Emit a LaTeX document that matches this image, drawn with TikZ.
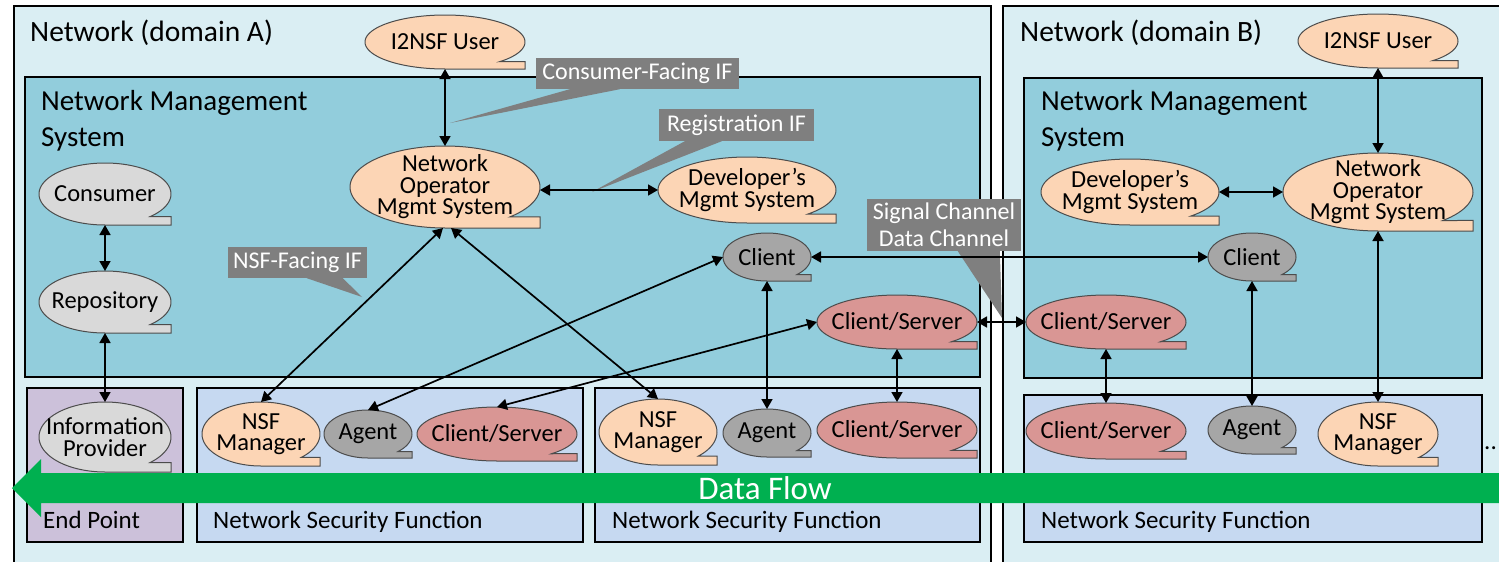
\documentclass[tikz,border=0pt]{standalone}
\usepackage{fontspec}
\setmainfont{Carlito}
\usetikzlibrary{arrows.meta,shapes.geometric,calc}

\definecolor{domfill}{HTML}{DAEEF3}
\definecolor{nmsfill}{HTML}{92CDDC}
\definecolor{nsffill}{HTML}{C6D9F1}
\definecolor{epfill}{HTML}{CCC1DA}
\definecolor{peach}{HTML}{FCD5B5}
\definecolor{ltgray}{HTML}{D9D9D9}
\definecolor{dkgray}{HTML}{A6A6A6}
\definecolor{rose}{HTML}{D99694}
\definecolor{calgray}{HTML}{7F7F7F}
\definecolor{flowgreen}{HTML}{00B050}

\tikzset{
  frame/.style={draw=black, line width=1.8pt},
  bubline/.style={draw=black!70, line width=1pt},
  bubshape/.style={ellipse, inner sep=0pt, outer sep=0pt, draw=none},
  bubtext/.style={align=center, inner sep=0pt, font=\fontsize{24.5}{21.5}\selectfont},
  link/.style={line width=1.7pt, {Triangle[length=10pt,width=11pt]}-{Triangle[length=10pt,width=11pt]}},
  callout/.style={fill=calgray, draw=none, text=white, inner sep=0pt, align=center,
                  font=\fontsize{24}{27}\selectfont},
  title/.style={anchor=base west, inner sep=0pt, font=\fontsize{29.5}{36}\selectfont, align=left},
  boxlabel/.style={anchor=base west, inner sep=0pt, font=\fontsize{25}{30}\selectfont},
}

% speech-bubble ellipse with a flat tab at its lower right
% #1 fill, #2 name, #3 cx, #4 cy, #5 half width, #6 half height, #7 text
\newcommand\bubble[7]{%
  \filldraw[bubline, fill=#1] plot[domain=47:-270, samples=90]
      ({#3+#5*cos(\x)},{#4+#6*sin(\x)}) -- ({#3+#5},{#4+#6}) -- ({#3+#5},{#4+0.73*#6}) -- cycle;
  \node[bubshape, minimum width={2*#5pt}, minimum height={2*#6pt}] (#2) at (#3,#4) {};
  \node[bubtext] (#2-t) at (#3,#4) {#7};
}

\begin{document}
\begin{tikzpicture}[x=1pt, y=-1pt]
\useasboundingbox (0,0) rectangle (1499,562);
\clip (0,0) rectangle (1499,562);

% domains
\filldraw[frame, fill=domfill] (14,6) rectangle (991,580);
\filldraw[frame, fill=domfill] (1003,6) rectangle (1530,580);

% management systems
\filldraw[frame, fill=nmsfill] (25,77) rectangle (980,377);
\filldraw[frame, fill=nmsfill] (1024,78) rectangle (1482,378);

% end point and security functions
\filldraw[frame, fill=epfill] (27,388) rectangle (183,542);
\filldraw[frame, fill=nsffill] (197,388) rectangle (583,542);
\filldraw[frame, fill=nsffill] (595,388) rectangle (980,542);
\filldraw[frame, fill=nsffill] (1024,395) rectangle (1482,542);

% titles
\node[title] (domA) at (30,41) {Network (domain A)};
\node[title] (domB) at (1020,41) {Network (domain B)};
\node[title, font=\fontsize{29}{36}\selectfont] (nmsA) at (41,146) {Network Management\\System};
\node[title, font=\fontsize{29}{36}\selectfont] (nmsB) at (1041,146) {Network Management\\System};
\node[boxlabel] (epl) at (43,528) {End Point};
\node[boxlabel] (nsfl1) at (213,528) {Network Security Function};
\node[boxlabel] (nsfl2) at (612,528) {Network Security Function};
\node[boxlabel] (nsfl3) at (1041,528) {Network Security Function};

% interface callouts
\node[callout, minimum width=203pt, minimum height=31pt] (cfi) at (637.5,73.5) {Consumer-Facing IF};
\fill[calgray] ($(cfi.south west)+(34,0)$) -- ($(cfi.south west)+(84,0)$) -- (450,123) -- cycle;
\node[callout, minimum width=155pt, minimum height=32pt] (regi) at (736.5,125) {Registration IF};
\fill[calgray] ($(regi.south west)+(26,0)$) -- ($(regi.south west)+(63,0)$) -- (592,192) -- cycle;
\node[callout, minimum width=139pt, minimum height=31pt] (nfi) at (297.5,262.5) {NSF-Facing IF};
\fill[calgray] ($(nfi.south west)+(79,0)$) -- ($(nfi.south west)+(115,0)$) -- (362,297) -- cycle;
\node[callout, minimum width=154pt, minimum height=52pt] (chan) at (944,225) {Signal Channel\\Data Channel};
\fill[calgray] ($(chan.south west)+(91,0)$) -- ($(chan.south west)+(133,0)$) -- (1002,318) -- cycle;

% domain A components
\bubble{peach}{userA}{445}{42}{80}{27}{I2NSF User}
\bubble{peach}{opA}{445}{187}{95}{41}{Network\\Operator\\Mgmt System}
\bubble{peach}{devA}{747}{190}{89}{33}{Developer’s\\Mgmt System}
\bubble{ltgray}{cons}{105}{194}{66}{31}{Consumer}
\bubble{ltgray}{repo}{105}{302}{66}{31}{Repository}
\bubble{ltgray}{info}{105}{437}{66}{35}{Information\\Provider}
\bubble{dkgray}{cliA}{767}{257}{44}{24}{Client}
\bubble{rose}{csA}{897}{322}{80}{27}{Client/Server}
\bubble{peach}{mgrA1}{261}{434}{59}{32}{NSF\\Manager}
\bubble{dkgray}{agA1}{368}{434}{44}{24}{Agent}
\bubble{rose}{csA1}{497}{434}{80}{27}{Client/Server}
\bubble{peach}{mgrA2}{658}{432}{59}{33}{NSF\\Manager}
\bubble{dkgray}{agA2}{767}{433}{44}{24}{Agent}
\bubble{rose}{csA2}{897}{430}{80}{28}{Client/Server}

% domain B components
\bubble{peach}{userB}{1378}{41}{80}{27}{I2NSF User}
\bubble{peach}{opB}{1378}{192}{95}{39}{Network\\Operator\\Mgmt System}
\bubble{peach}{devB}{1130}{192}{89}{33}{Developer’s\\Mgmt System}
\bubble{dkgray}{cliB}{1252}{257}{44}{24}{Client}
\bubble{rose}{csB}{1106}{322}{80}{27}{Client/Server}
\bubble{rose}{csB1}{1106}{431}{80}{28}{Client/Server}
\bubble{dkgray}{agB}{1252}{430}{44}{24}{Agent}
\bubble{peach}{mgrB}{1378}{434}{60}{32}{NSF\\Manager}

% interfaces, domain A
\draw[link] (userA.south) -- (opA.north);
\draw[link] (opA.east |- devA.west) -- (devA.west);
\draw[link] (cons.south) -- (repo.north);
\draw[link] (repo.south) -- (info.north);
\draw[link] ([xshift=-2pt]opA.south) -- (mgrA1.north);
\draw[link] ([xshift=6pt]opA.south) -- (mgrA2.north);
\draw[link] (cliA.west) -- (agA1.north);
\draw[link] (csA.west) -- (csA1.north);
\draw[link] (cliA.south) -- (agA2.north);
\draw[link] (csA.south) -- (csA2.north);

% channels between domains
\draw[link] (cliA.east) -- (cliB.west);
\draw[link] (csA.east) -- (csB.west);

% interfaces, domain B
\draw[link] (userB.south) -- (opB.north);
\draw[link] (devB.east) -- (opB.west);
\draw[link] (opB.south) -- (mgrB.north);
\draw[link] (cliB.south) -- (agB.north);
\draw[link] (csB.south) -- (csB1.north);

% data flow
\fill[flowgreen] (1530,473) -- (41,473) -- (41,459) -- (12,488) -- (41,517) -- (41,503) -- (1530,503) -- cycle;
\node[text=white, inner sep=0pt, font=\fontsize{33}{36}\selectfont] (flow) at (765,488) {Data Flow};

\node[anchor=base west, inner sep=0pt, font=\fontsize{25}{30}\selectfont] (more) at (1484,449) {..};
\end{tikzpicture}
\end{document}
